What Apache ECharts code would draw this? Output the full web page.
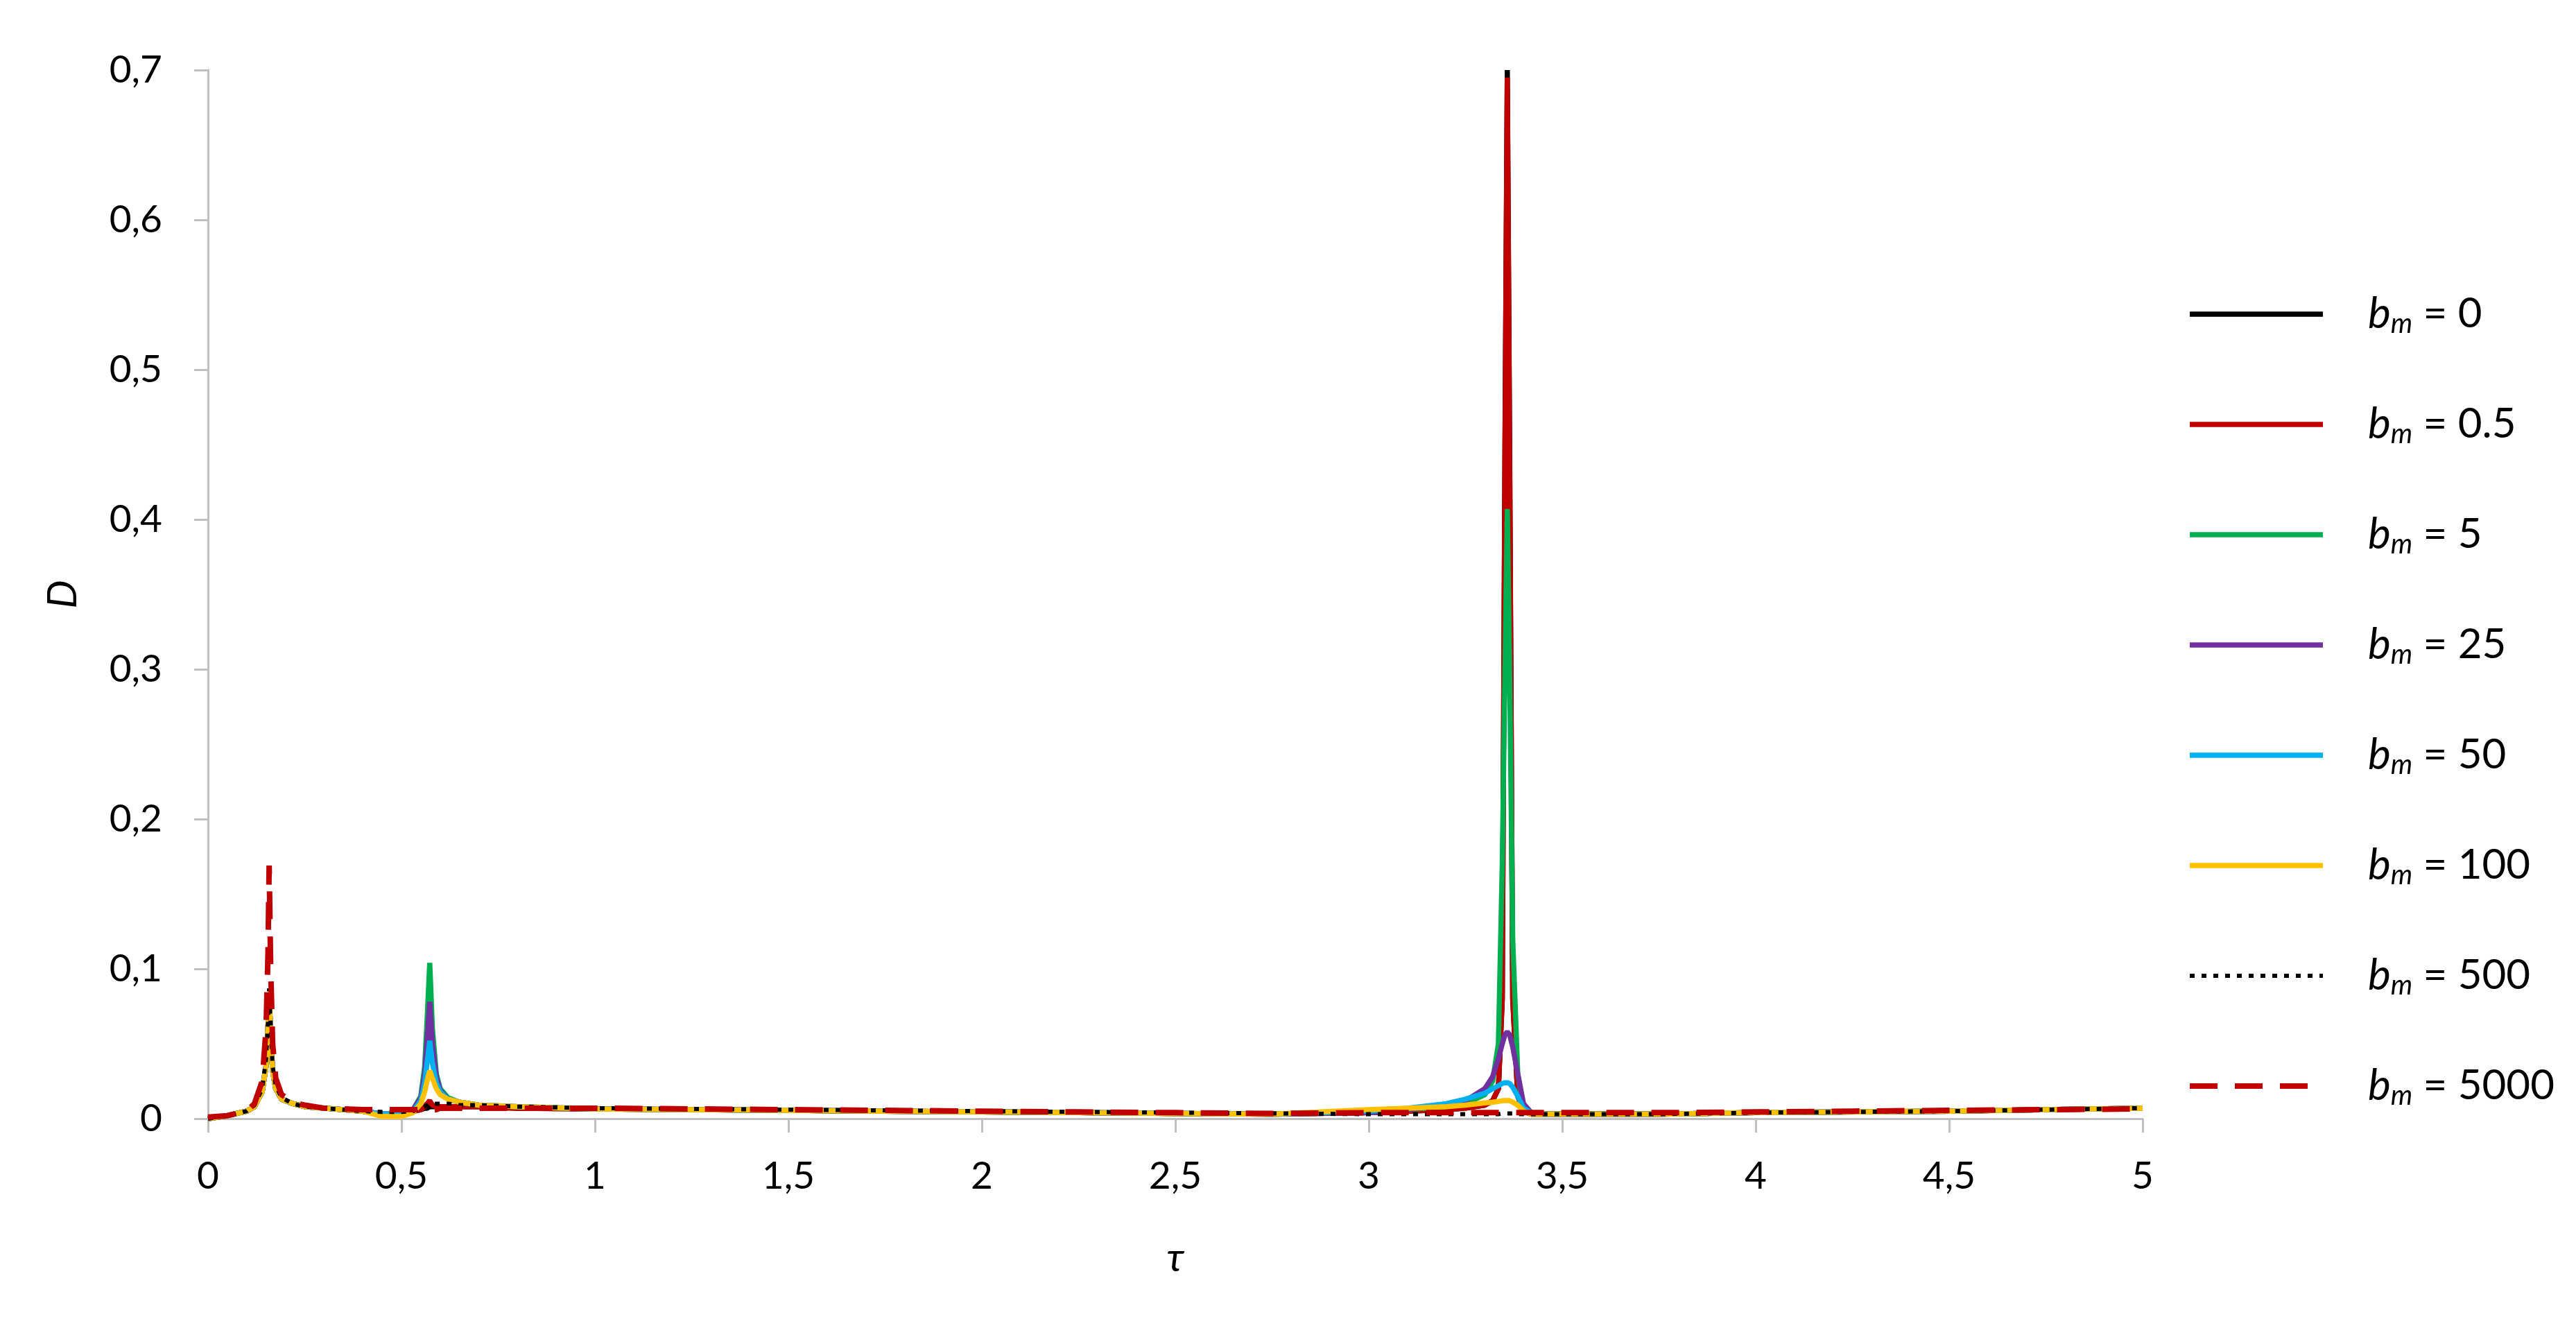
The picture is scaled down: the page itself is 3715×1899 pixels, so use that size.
<!DOCTYPE html>
<html>
<head>
<meta charset="utf-8">
<script src="https://cdn.jsdelivr.net/npm/echarts@6/dist/echarts.min.js"></script>
<style>
  html, body { margin: 0; padding: 0; background: #fff; }
  #chart { width: 3715px; height: 1899px; }
</style>
</head>
<body>
<div id="chart"></div>
<script>
// tau grid (denser around the three resonance peaks)
const tau = [0, 0.05, 0.1, 0.12, 0.14, 0.15, 0.155, 0.158, 0.162, 0.167, 0.175, 0.19, 0.22, 0.25, 0.3, 0.35, 0.4, 0.45, 0.5,
  0.53, 0.55, 0.56, 0.566, 0.573, 0.58, 0.59, 0.6, 0.62, 0.65, 0.7, 0.8,
  1.0, 1.25, 1.5, 1.75, 2.0, 2.25, 2.5, 2.75,
  3.0, 3.1, 3.2, 3.25, 3.3, 3.32, 3.335, 3.345, 3.352, 3.358, 3.364, 3.372, 3.385, 3.4, 3.42, 3.45, 3.5,
  3.75, 4.0, 4.25, 4.5, 4.75, 5.0];

const d0 = [0, 0.002, 0.005, 0.008, 0.018, 0.035, 0.06, 0.083, 0.055, 0.032, 0.02, 0.013, 0.01, 0.008, 0.007, 0.006, 0.005, 0.003, 0.003,
  0.005, 0.006, 0.007, 0.007, 0.008, 0.008, 0.008, 0.008, 0.008, 0.008, 0.008, 0.007,
  0.0065, 0.006, 0.0055, 0.005, 0.0045, 0.004, 0.0035, 0.003,
  0.004, 0.005, 0.006, 0.007, 0.009, 0.012, 0.02, 0.08, 0.45, 0.70, 0.45, 0.08, 0.015, 0.005, 0.003, 0.003, 0.003,
  0.003, 0.004, 0.0045, 0.005, 0.006, 0.007];

const d05 = [0, 0.002, 0.005, 0.008, 0.018, 0.035, 0.06, 0.083, 0.055, 0.032, 0.02, 0.013, 0.01, 0.008, 0.007, 0.006, 0.005, 0.003, 0.003,
  0.005, 0.006, 0.008, 0.01, 0.012, 0.009, 0.008, 0.008, 0.008, 0.008, 0.008, 0.007,
  0.0065, 0.006, 0.0055, 0.005, 0.0045, 0.004, 0.0035, 0.003,
  0.004, 0.005, 0.006, 0.007, 0.009, 0.012, 0.02, 0.08, 0.44, 0.695, 0.44, 0.08, 0.015, 0.005, 0.003, 0.003, 0.003,
  0.003, 0.004, 0.0045, 0.005, 0.006, 0.007];

const d5 = [0, 0.002, 0.005, 0.008, 0.018, 0.035, 0.06, 0.083, 0.055, 0.032, 0.02, 0.013, 0.01, 0.008, 0.007, 0.006, 0.005, 0.003, 0.003,
  0.006, 0.015, 0.035, 0.065, 0.104, 0.06, 0.03, 0.02, 0.014, 0.011, 0.009, 0.008,
  0.0065, 0.006, 0.0055, 0.005, 0.0045, 0.004, 0.0035, 0.003,
  0.004, 0.006, 0.008, 0.01, 0.016, 0.025, 0.05, 0.17, 0.3, 0.407, 0.3, 0.12, 0.03, 0.006, 0.003, 0.003, 0.003,
  0.003, 0.004, 0.0045, 0.005, 0.006, 0.007];

const d25 = [0, 0.002, 0.005, 0.008, 0.018, 0.035, 0.06, 0.083, 0.055, 0.032, 0.02, 0.013, 0.01, 0.008, 0.007, 0.006, 0.005, 0.003, 0.003,
  0.006, 0.014, 0.03, 0.052, 0.078, 0.05, 0.028, 0.019, 0.013, 0.011, 0.009, 0.008,
  0.0065, 0.006, 0.0055, 0.005, 0.0045, 0.004, 0.0035, 0.003,
  0.004, 0.006, 0.009, 0.012, 0.02, 0.028, 0.04, 0.05, 0.056, 0.058, 0.056, 0.048, 0.03, 0.01, 0.004, 0.003, 0.003,
  0.003, 0.004, 0.0045, 0.005, 0.006, 0.007];

const d50 = [0, 0.002, 0.005, 0.008, 0.018, 0.035, 0.06, 0.083, 0.055, 0.032, 0.02, 0.013, 0.01, 0.008, 0.007, 0.006, 0.005, 0.003, 0.003,
  0.005, 0.012, 0.024, 0.037, 0.052, 0.037, 0.024, 0.018, 0.013, 0.011, 0.009, 0.008,
  0.0065, 0.006, 0.0055, 0.005, 0.0045, 0.004, 0.0035, 0.003,
  0.005, 0.007, 0.01, 0.013, 0.017, 0.02, 0.022, 0.0235, 0.024, 0.024, 0.0235, 0.021, 0.015, 0.007, 0.004, 0.003, 0.003,
  0.003, 0.004, 0.0045, 0.005, 0.006, 0.007];

const d100 = [0, 0.002, 0.005, 0.008, 0.018, 0.035, 0.06, 0.083, 0.055, 0.032, 0.02, 0.013, 0.01, 0.008, 0.007, 0.006, 0.005, 0.0015, 0.0015,
  0.004, 0.01, 0.018, 0.025, 0.032, 0.027, 0.02, 0.016, 0.013, 0.011, 0.009, 0.008,
  0.0065, 0.006, 0.0055, 0.005, 0.0045, 0.004, 0.0035, 0.003,
  0.006, 0.007, 0.008, 0.009, 0.0105, 0.011, 0.0115, 0.012, 0.012, 0.012, 0.012, 0.011, 0.009, 0.005, 0.003, 0.003, 0.003,
  0.003, 0.004, 0.0045, 0.005, 0.006, 0.007];

const d500 = [0, 0.002, 0.005, 0.009, 0.02, 0.04, 0.065, 0.087, 0.06, 0.035, 0.022, 0.014, 0.01, 0.008, 0.007, 0.006, 0.005, 0.0045, 0.0045,
  0.005, 0.007, 0.008, 0.009, 0.01, 0.01, 0.01, 0.01, 0.01, 0.009, 0.009, 0.008,
  0.007, 0.0065, 0.006, 0.0055, 0.005, 0.0045, 0.004, 0.0035,
  0.003, 0.003, 0.003, 0.003, 0.003, 0.003, 0.003, 0.0035, 0.0035, 0.0035, 0.0035, 0.0035, 0.003, 0.003, 0.003, 0.003, 0.003,
  0.003, 0.004, 0.0045, 0.005, 0.006, 0.007];

const d5000 = [0.001, 0.002, 0.005, 0.01, 0.025, 0.06, 0.11, 0.169, 0.1, 0.05, 0.027, 0.016, 0.011, 0.009, 0.007, 0.0065, 0.006, 0.006, 0.006,
  0.006, 0.006, 0.006, 0.006, 0.006, 0.006, 0.006, 0.007, 0.007, 0.007, 0.007, 0.007,
  0.007, 0.0065, 0.006, 0.0055, 0.005, 0.0045, 0.004, 0.0035,
  0.004, 0.004, 0.004, 0.004, 0.004, 0.004, 0.004, 0.004, 0.004, 0.004, 0.004, 0.004, 0.004, 0.004, 0.004, 0.004, 0.004,
  0.004, 0.0045, 0.005, 0.0055, 0.006, 0.0065];

const bmLabels = ['0', '0.5', '5', '25', '50', '100', '500', '5000'];
const seriesData = [d0, d05, d5, d25, d50, d100, d500, d5000];
const colors = ['#000000', '#C00000', '#00B050', '#7030A0', '#00B0F0', '#FFC000', '#000000', '#C00000'];

const font = 'Lato, "Noto Sans", sans-serif';
const comma = v => String(v).replace('.', ',');

const chart = echarts.init(document.getElementById('chart'));

const series = bmLabels.map((bm, k) => {
    let lineStyle = { color: colors[k], width: 7.5, type: 'solid' };
    if (bm === '500') {
        lineStyle = { color: colors[k], width: 6, type: [7, 10] };
    }
    if (bm === '5000') {
        lineStyle = { color: colors[k], width: 8, type: [40, 25] };
    }
    return {
        name: bm,
        type: 'line',
        symbol: 'none',
        smooth: false,
        animation: false,
        color: colors[k],
        lineStyle: lineStyle,
        data: tau.map((t, i) => [t, seriesData[k][i]])
    };
});

chart.setOption({
    backgroundColor: '#ffffff',
    animation: false,
    grid: { left: 300, top: 101, width: 2790, height: 1512 },
    xAxis: {
        type: 'value',
        min: 0,
        max: 5,
        interval: 0.5,
        name: 'τ',
        nameLocation: 'middle',
        nameGap: 172,
        nameTextStyle: { fontFamily: font, fontStyle: 'italic', fontSize: 58, color: '#000' },
        axisLine: { lineStyle: { color: '#BFBFBF', width: 3 } },
        axisTick: { show: true, length: 20, lineStyle: { color: '#BFBFBF', width: 3 } },
        axisLabel: { fontFamily: font, fontSize: 55, color: '#000', margin: 56, formatter: comma },
        splitLine: { show: false }
    },
    yAxis: {
        type: 'value',
        min: 0,
        max: 0.7,
        interval: 0.1,
        name: 'D',
        nameLocation: 'middle',
        nameGap: 180,
        nameTextStyle: { fontFamily: font, fontStyle: 'italic', fontSize: 58, color: '#000' },
        axisLine: { show: true, lineStyle: { color: '#BFBFBF', width: 3 } },
        axisTick: { show: true, length: 20, lineStyle: { color: '#BFBFBF', width: 3 } },
        axisLabel: { fontFamily: font, fontSize: 55, color: '#000', margin: 66, formatter: comma },
        splitLine: { show: false }
    },
    legend: {
        orient: 'vertical',
        left: 3149,
        top: 417,
        itemWidth: 192,
        itemHeight: 70,
        itemGap: 94,
        data: bmLabels,
        itemStyle: { opacity: 0, borderWidth: 0 },
        lineStyle: { width: 'inherit' },
        formatter: name => '{b|b}{m|m} = ' + name,
        textStyle: {
            fontFamily: font,
            fontSize: 60,
            color: '#000',
            padding: [0, 0, 0, 60],
            rich: {
                b: { fontFamily: font, fontStyle: 'italic', fontSize: 62, color: '#000' },
                m: { fontFamily: font, fontStyle: 'italic', fontSize: 40, color: '#000', padding: [28, 0, 0, 0] }
            }
        }
    },
    series: series
});
</script>
</body>
</html>
